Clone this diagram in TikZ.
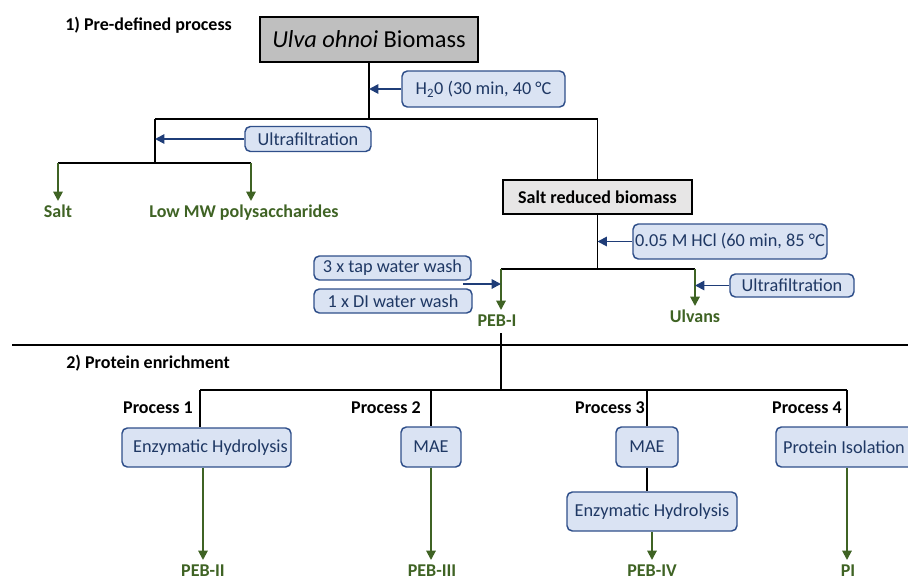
\documentclass[tikz,border=0pt]{standalone}
\usepackage{fontspec}
\setmainfont{Carlito}
\usetikzlibrary{arrows.meta}
\definecolor{bfill}{HTML}{DAE3F3}
\definecolor{bdraw}{HTML}{2F4F8A}
\definecolor{btext}{HTML}{1F3864}
\definecolor{gr}{HTML}{3F6324}
\definecolor{barrow}{HTML}{1F3D78}
\definecolor{dgray}{HTML}{BFBFBF}
\definecolor{lgray}{HTML}{E7E6E6}
\begin{document}
\begin{tikzpicture}[x=0.75pt,y=-0.75pt,
 conn/.style={line width=1.4pt, black},
 garrow/.style={line width=1.4pt, gr, -{Triangle[length=7pt,width=7pt]}},
 barr/.style={line width=1.4pt, barrow, -{Triangle[length=7pt,width=7pt]}},
 proc/.style={draw=bdraw, fill=bfill, line width=1.1pt, rounded corners=4pt, text=btext, font=\fontsize{13.7}{15}\selectfont, inner sep=0pt, align=center},
 graybox/.style={draw=black, line width=1.3pt, inner sep=0pt},
 outlab/.style={text=gr, font=\bfseries\fontsize{13.5}{15}\selectfont, anchor=north, inner sep=3pt, text height=9pt, text depth=2pt},
 blab/.style={font=\bfseries\fontsize{13.5}{15}\selectfont, inner sep=0pt},
]
\useasboundingbox (0,0) rectangle (908,579);
\clip (0,0) rectangle (908,579);

% section 1
\node[blab, anchor=west] (t1) at (65,25) {1) Pre-defined process};
\node[graybox, fill=dgray, minimum width=163.5pt, minimum height=33.75pt, font=\fontsize{18.3}{20}\selectfont] (bio) at (369,39.5) {\textit{Ulva ohnoi} Biomass};
\node[proc, minimum width=122.25pt, minimum height=27pt] (h2o) at (483.5,89) {H\textsubscript{2}0 (30 min, 40 °C};
\node[proc, minimum width=94.5pt, minimum height=18.75pt] (uf1) at (308,139) {Ultrafiltration};
\node[graybox, fill=lgray, minimum width=141.75pt, minimum height=25.5pt, font=\bfseries\fontsize{13.5}{15}\selectfont] (sb) at (597.5,197) {Salt reduced biomass};
\node[proc, minimum width=145.5pt, minimum height=26.25pt] (hcl) at (730,241.5) {0.05 M HCl (60 min, 85 °C};
\node[proc, minimum width=117.75pt, minimum height=18pt] (tap) at (392.5,268) {3 x tap water wash};
\node[proc, minimum width=118.5pt, minimum height=18pt] (di) at (393,301) {1 x DI water wash};
\node[proc, minimum width=93pt, minimum height=17.25pt] (uf2) at (792,285.5) {Ultrafiltration};

\coordinate (j1) at (369,119);
\coordinate (jl) at (155,119);
\coordinate (jl2) at (155,163);
\coordinate (jr) at (597.5,119);
\draw[conn] (bio.south) -- (j1);
\draw[barr] (h2o.west) -- (h2o.west -| bio.south);
\draw[conn] (jl) -- (jr) -- (sb.north);
\draw[conn] (jl) -- (jl2);
\draw[barr] (uf1.west) -- (uf1.west -| jl);

\coordinate (a1) at (58,163);
\coordinate (a2) at (251,163);
\draw[conn] (a1) -- (a2);
\node[outlab] (salt) at (58,201) {Salt};
\node[outlab] (lmw) at (244,201) {Low MW polysaccharides};
\draw[garrow] (a1) -- (salt.north);
\draw[garrow] (a2) -- (a2 |- lmw.north);

\coordinate (h2) at (597.5,269);
\coordinate (b1) at (501,269);
\coordinate (b2) at (695,269);
\draw[conn] (sb.south) -- (h2);
\draw[barr] (hcl.west) -- (hcl.west -| sb.south);
\draw[conn] (b1) -- (b2);
\node[outlab] (peb1) at (497,310) {PEB-I};
\node[outlab] (ulv) at (695,306) {Ulvans};
\draw[garrow] (b1) -- (b1 |- peb1.north);
\draw[garrow] (b2) -- (ulv.north);
\coordinate (wash) at (463,284);
\draw[barr] (wash) -- (wash -| b1);
\draw[barr] (uf2.west) -- (uf2.west -| b2);

% separator
\coordinate (s1) at (12,345);
\coordinate (s2) at (910,345);
\draw[conn] (s1) -- (s2);

% section 2
\node[blab, anchor=west] (t2) at (66,363) {2) Protein enrichment};
\coordinate (h3) at (501,390);
\coordinate (p1) at (200,390);
\coordinate (p4) at (847,390);
\draw[conn] (b1 |- peb1.south) -- (h3);
\draw[conn] (p1) -- (p4);

\node[blab] (pr1) at (158,408) {Process 1};
\node[blab] (pr2) at (386,408) {Process 2};
\node[blab] (pr3) at (610,408) {Process 3};
\node[blab] (pr4) at (807,408) {Process 4};

\node[proc, minimum width=126.75pt, minimum height=29.25pt] (eh1) at (206.5,447.5) {\hspace*{6pt}Enzymatic Hydrolysis};
\node[proc, minimum width=45pt, minimum height=30pt] (mae2) at (431,447) {MAE};
\node[proc, minimum width=46.5pt, minimum height=30pt] (mae3) at (647,447) {MAE};
\node[proc, minimum width=105pt, minimum height=30pt] (pi) at (846,447) {Protein Isolation\hspace*{3pt}};
\node[proc, minimum width=127.5pt, minimum height=29.25pt] (eh3) at (652,511.5) {Enzymatic Hydrolysis};

\draw[conn] (p1) -- (p1 |- eh1.north);
\draw[conn] (mae2.north |- p1) -- (mae2.north);
\draw[conn] (mae3.north |- p1) -- (mae3.north);
\draw[conn] (p4) -- (p4 |- pi.north);
\draw[conn] (mae3.south) -- (mae3.south |- eh3.north);

\node[outlab] (peb2) at (203,560) {PEB-II};
\node[outlab] (peb3) at (432,560) {PEB-III};
\node[outlab] (peb4) at (652,560) {PEB-IV};
\node[outlab] (ppi) at (848,560) {PI};
\draw[garrow] (peb2.north |- eh1.south) -- (peb2.north);
\draw[garrow] (mae2.south) -- (mae2.south |- peb3.north);
\draw[garrow] (eh3.south) -- (peb4.north);
\draw[garrow] (p4 |- pi.south) -- (p4 |- ppi.north);
\end{tikzpicture}
\end{document}
